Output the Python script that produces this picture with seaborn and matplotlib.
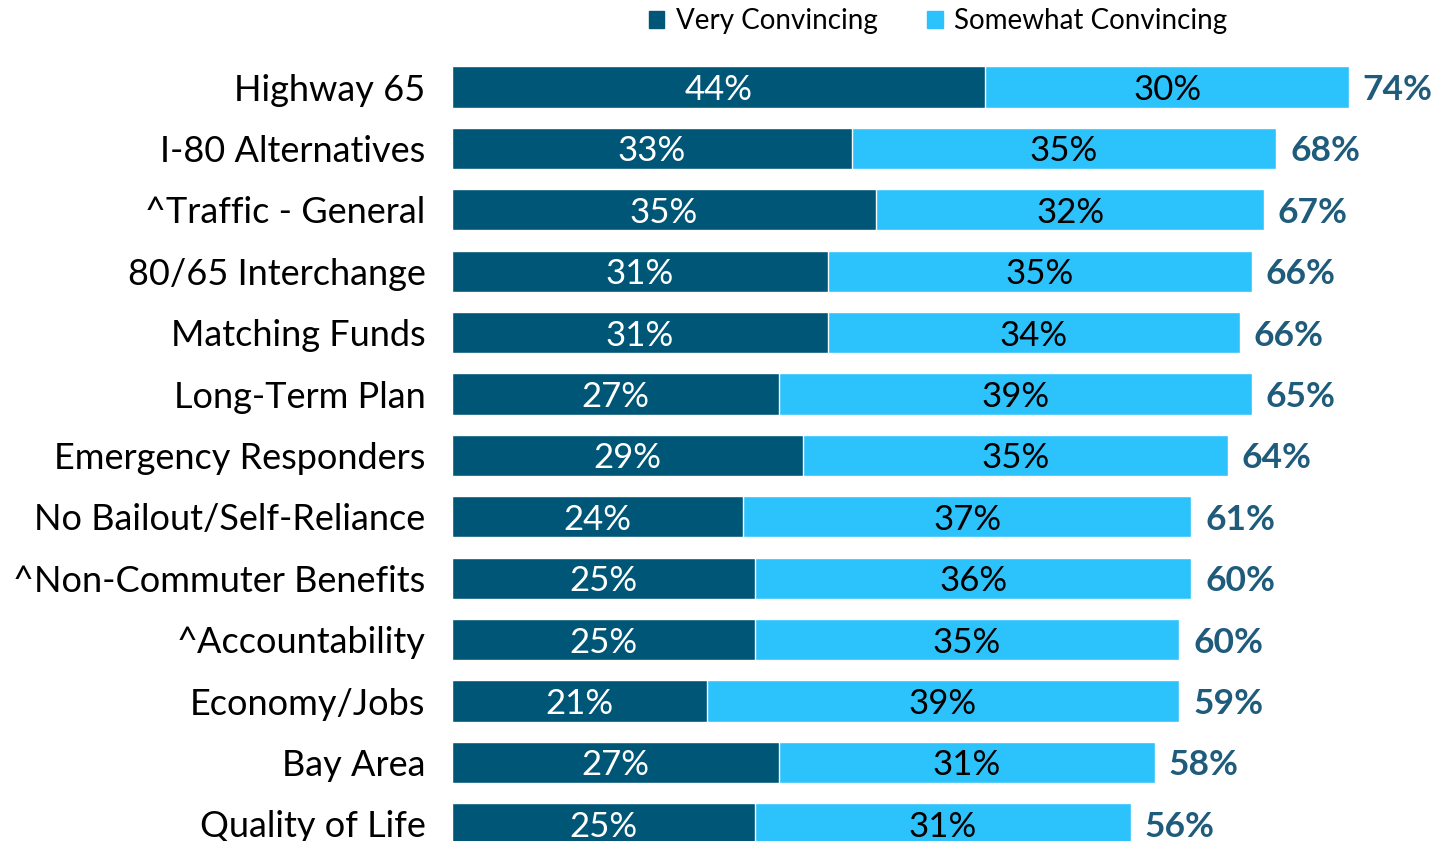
import numpy as np
import pandas as pd
import matplotlib
matplotlib.use('Agg')
import matplotlib.pyplot as plt
import seaborn as sns
from matplotlib.patches import Patch

# Chart data
categories = ['Highway 65', 'I-80 Alternatives', '^Traffic - General', '80/65 Interchange',
              'Matching Funds', 'Long-Term Plan', 'Emergency Responders',
              'No Bailout/Self-Reliance', '^Non-Commuter Benefits', '^Accountability',
              'Economy/Jobs', 'Bay Area', 'Quality of Life']
very = [44, 33, 35, 31, 31, 27, 29, 24, 25, 25, 21, 27, 25]
somewhat = [30, 35, 32, 35, 34, 39, 35, 37, 36, 35, 39, 31, 31]
total_labels = [74, 68, 67, 66, 66, 65, 64, 61, 60, 60, 59, 58, 56]

dark = '#005677'
light = '#2CC3FD'
total_color = '#1F5B7B'

df = pd.DataFrame({'cat': categories, 'very': very, 'somewhat': somewhat})
df['stack'] = df['very'] + df['somewhat']

sns.set_style('white')
plt.rcParams['font.family'] = ['Lato', 'DejaVu Sans']

fig = plt.figure(figsize=(14.38, 8.41), dpi=100)
ax = fig.add_axes([452 / 1438, 0, 1 - 452 / 1438, 1])

sns.barplot(data=df, x='stack', y='cat', color=light, orient='h', width=0.67,
            saturation=1, ax=ax)
sns.barplot(data=df, x='very', y='cat', color=dark, orient='h', width=0.67,
            saturation=1, ax=ax)

for i, row in df.iterrows():
    ax.text(row['very'] / 2, i, f"{row['very']}%", ha='center', va='center_baseline',
            color='white', fontsize=25)
    ax.text(row['very'] + row['somewhat'] / 2, i, f"{row['somewhat']}%", ha='center',
            va='center_baseline', color='black', fontsize=25)
    ax.annotate(f"{total_labels[i]}%", xy=(row['stack'], i), xytext=(10, 0),
                textcoords='offset points', ha='left', va='center_baseline',
                color=total_color, fontsize=25.5, fontweight='bold')

ax.set_xlim(0, 986 / 12.12)
ax.set_ylim(12.28, -1.417)
ax.set_xlabel('')
ax.set_ylabel('')
ax.set_xticks([])
ax.tick_params(axis='y', length=0, pad=19, labelsize=26, labelcolor='black')
sns.despine(ax=ax, left=True, bottom=True)

handles = [Patch(color=dark, label='Very Convincing'),
           Patch(color=light, label='Somewhat Convincing')]
fig.legend(handles=handles, loc='center', bbox_to_anchor=(938 / 1438, 1 - 21 / 841),
           ncol=2, frameon=False, fontsize=20, handlelength=0.55, handleheight=0.55,
           handletextpad=0.4, columnspacing=1.8, labelcolor='black')

fig.savefig('out.png', dpi=100)
